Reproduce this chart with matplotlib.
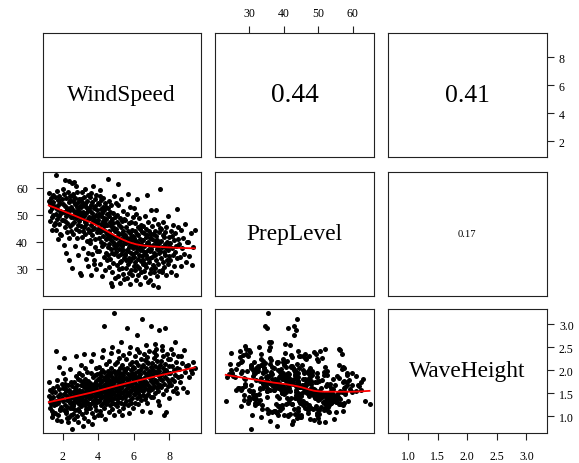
import numpy as np
import matplotlib
matplotlib.use("Agg")
import matplotlib.pyplot as plt

plt.rcParams['font.family'] = ['Liberation Serif', 'DejaVu Serif']

# observations (one entry per row of the data frame), grouped by wind speed
wind_speed = [
    1.22, 1.25, 1.28, 1.30, 1.33, 1.35, 1.38, 1.40, 1.42, 1.44, 1.46, 1.47, 1.49, 1.31,
    1.52, 1.55, 1.57, 1.6, 1.62, 1.64, 1.66, 1.68, 1.7, 1.72, 1.74, 1.76, 1.78, 1.8, 1.82, 1.84, 1.86, 1.88, 1.9, 1.93, 1.95, 1.98,
    2.01, 2.03, 2.05, 2.07, 2.09, 2.11, 2.13, 2.15, 2.17, 2.19, 2.21, 2.23, 2.25, 2.27, 2.29, 2.31, 2.33, 2.35, 2.37, 2.39,
    2.41, 2.43, 2.45, 2.47, 2.49, 2.04, 2.14, 2.24, 2.34, 2.44,
    2.51, 2.52, 2.54, 2.55, 2.57, 2.58, 2.6, 2.61, 2.63, 2.64, 2.66, 2.67, 2.69, 2.7, 2.72, 2.73, 2.75, 2.76, 2.78, 2.79,
    2.81, 2.82, 2.84, 2.85, 2.87, 2.88, 2.9, 2.91, 2.93, 2.94, 2.96, 2.97, 2.99, 2.56,
    3.01, 3.02, 3.04, 3.05, 3.07, 3.08, 3.1, 3.11, 3.13, 3.14, 3.16, 3.17, 3.19, 3.2, 3.22, 3.23, 3.25, 3.26, 3.28, 3.29,
    3.31, 3.32, 3.34, 3.35, 3.37, 3.38, 3.4, 3.41, 3.43, 3.44, 3.46, 3.47, 3.49, 3.06, 3.24, 3.42,
    3.51, 3.52, 3.53, 3.55, 3.56, 3.58, 3.59, 3.6, 3.62, 3.63, 3.65, 3.66, 3.67, 3.69, 3.7, 3.72, 3.73, 3.74, 3.76, 3.77,
    3.79, 3.8, 3.81, 3.83, 3.84, 3.86, 3.87, 3.88, 3.9, 3.91, 3.93, 3.94, 3.95, 3.97, 3.98, 3.99, 3.54, 3.78,
    4.01, 4.02, 4.03, 4.05, 4.06, 4.07, 4.08, 4.1, 4.11, 4.12, 4.13, 4.15, 4.16, 4.17, 4.18, 4.2, 4.21, 4.22, 4.23, 4.25,
    4.26, 4.27, 4.28, 4.3, 4.31, 4.32, 4.33, 4.35, 4.36, 4.37, 4.38, 4.4, 4.41, 4.42, 4.43, 4.45, 4.46, 4.47, 4.48, 4.49,
    4.51, 4.52, 4.53, 4.54, 4.55, 4.56, 4.58, 4.59, 4.6, 4.61, 4.62, 4.63, 4.65, 4.66, 4.67, 4.68, 4.69, 4.7, 4.72, 4.73,
    4.74, 4.75, 4.76, 4.77, 4.79, 4.8, 4.81, 4.82, 4.83, 4.84, 4.86, 4.87, 4.88, 4.89, 4.9, 4.91, 4.93, 4.94, 4.95, 4.96,
    4.97, 4.99,
    5.01, 5.02, 5.03, 5.04, 5.05, 5.07, 5.08, 5.09, 5.1, 5.11, 5.12, 5.13, 5.15, 5.16, 5.17, 5.18, 5.19, 5.2, 5.22, 5.23,
    5.24, 5.25, 5.26, 5.27, 5.29, 5.3, 5.31, 5.32, 5.33, 5.34, 5.36, 5.37, 5.38, 5.39, 5.4, 5.41, 5.43, 5.44, 5.45, 5.46,
    5.47, 5.49,
    5.51, 5.52, 5.53, 5.55, 5.56, 5.57, 5.58, 5.6, 5.61, 5.62, 5.63, 5.65, 5.66, 5.67, 5.68, 5.7, 5.71, 5.72, 5.73, 5.75,
    5.76, 5.77, 5.78, 5.8, 5.81, 5.82, 5.83, 5.85, 5.86, 5.87, 5.88, 5.9, 5.91, 5.92, 5.93, 5.95, 5.96, 5.97, 5.98, 5.99,
    6.01, 6.02, 6.04, 6.05, 6.06, 6.08, 6.09, 6.1, 6.12, 6.13, 6.14, 6.16, 6.17, 6.18, 6.2, 6.21, 6.22, 6.24, 6.25, 6.26,
    6.28, 6.29, 6.3, 6.32, 6.33, 6.34, 6.36, 6.37, 6.38, 6.4, 6.41, 6.42, 6.44, 6.45, 6.46, 6.48, 6.49, 6.03,
    6.51, 6.52, 6.54, 6.55, 6.57, 6.58, 6.6, 6.61, 6.63, 6.64, 6.66, 6.67, 6.69, 6.7, 6.72, 6.73, 6.75, 6.76, 6.78, 6.79,
    6.81, 6.82, 6.84, 6.85, 6.87, 6.88, 6.9, 6.91, 6.93, 6.94, 6.96, 6.97, 6.99, 6.56, 6.74, 6.92,
    7.01, 7.03, 7.04, 7.06, 7.07, 7.09, 7.1, 7.12, 7.13, 7.15, 7.16, 7.18, 7.19, 7.21, 7.22, 7.24, 7.25, 7.27, 7.28, 7.3,
    7.31, 7.33, 7.34, 7.36, 7.37, 7.39, 7.4, 7.42, 7.43, 7.45, 7.46, 7.48,
    7.51, 7.53, 7.55, 7.57, 7.59, 7.61, 7.63, 7.65, 7.67, 7.69, 7.71, 7.73, 7.75, 7.77, 7.79, 7.81, 7.83, 7.85, 7.87, 7.89,
    7.91, 7.93, 7.95, 7.97, 7.99, 7.6,
    8.02, 8.05, 8.08, 8.1, 8.13, 8.16, 8.19, 8.21, 8.24, 8.27, 8.3, 8.32, 8.35, 8.38, 8.41, 8.43, 8.46, 8.49,
    8.53, 8.58, 8.62, 8.67, 8.71, 8.76, 8.8, 8.85, 8.9, 8.96,
    9.05, 9.12, 9.2, 9.25, 9.33, 9.42,
]

prep_level = [
    58.2, 55.1, 51.3, 47.8, 53.6, 56.4, 49.2, 44.6, 52.7, 57.3, 50.1, 54.8, 46.3, 53.9,
    53.2, 47.1, 56.8, 64.8, 50.4, 44.3, 58.9, 52.1, 48.6, 55.4, 41.2, 53.7, 49.8, 57.2, 46.5, 51.6, 54.3, 43.0, 50.9, 42.6, 56.1, 48.0,
    54.1, 48.3, 57.6, 38.9, 51.2, 45.7, 62.9, 53.4, 35.8, 49.6, 56.2, 43.8, 52.7, 47.2, 58.4, 50.3, 41.6, 62.4, 54.9, 46.1,
    51.8, 55.7, 44.2, 49.1, 53.0, 59.6, 47.9, 52.2, 33.4, 56.9,
    52.3, 46.8, 30.5, 61.9, 55.2, 49.4, 43.1, 57.8, 51.6, 62.2, 47.5, 53.9, 38.4, 50.2, 56.4, 44.7, 60.8, 48.9, 53.1, 41.3,
    58.6, 50.8, 46.2, 54.7, 35.2, 52.0, 47.9, 56.0, 49.7, 44.0, 53.5, 28.6, 51.1, 57.1,
    27.6, 52.8, 46.1, 55.9, 41.7, 50.3, 58.4, 48.7, 44.2, 53.6, 37.9, 51.1, 56.7, 45.5, 49.8, 42.9, 54.2, 47.3, 59.8, 33.6,
    50.6, 46.8, 53.0, 40.4, 55.3, 48.2, 51.9, 44.8, 57.5, 36.1, 49.3, 52.4, 43.6, 54.8, 47.7, 31.2,
    51.4, 44.2, 56.8, 39.6, 48.9, 53.7, 27.8, 46.3, 58.2, 42.5, 50.7, 35.4, 54.9, 47.6, 44.9, 60.9, 49.3, 31.7, 52.6, 45.1,
    41.2, 55.8, 48.1, 38.3, 53.2, 46.9, 29.9, 50.1, 57.4, 43.6, 47.2, 52.0, 36.8, 49.7, 44.4, 54.3, 40.7, 33.2,
    48.2, 41.6, 53.9, 36.7, 50.4, 45.3, 57.1, 59.2, 43.8, 31.9, 49.6, 52.2, 40.1, 46.8, 55.4, 27.3, 44.5, 50.9, 38.4, 47.7,
    53.0, 42.3, 56.3, 49.0, 34.6, 45.9, 39.2, 51.7, 47.1, 29.8, 44.0, 54.6, 41.0, 48.5, 36.0, 52.8, 46.2, 43.1, 50.2, 33.4,
    46.3, 38.1, 52.4, 63.5, 41.7, 35.2, 49.8, 44.0, 30.6, 55.1, 43.2, 39.4, 47.5, 33.8, 51.0, 41.1, 24.8, 45.8, 37.3, 53.6,
    42.6, 28.9, 48.4, 23.6, 40.2, 36.0, 50.7, 44.7, 32.1, 47.0, 38.9, 35.5, 42.0, 57.2, 45.1, 39.8, 49.3, 26.7, 43.9, 37.8,
    54.3, 41.4,
    44.8, 36.2, 50.1, 31.5, 41.9, 47.3, 38.7, 27.4, 61.4, 43.5, 34.8, 53.6, 40.0, 29.9, 46.2, 37.5, 42.8, 32.6, 49.0, 39.3,
    24.9, 45.4, 35.7, 41.2, 55.9, 33.1, 38.4, 47.8, 30.4, 43.1, 36.9, 51.5, 40.6, 28.2, 44.2, 37.0, 34.0, 48.6, 39.7, 26.3,
    42.3, 35.4,
    42.7, 35.0, 48.1, 30.3, 39.8, 45.6, 33.4, 26.8, 41.3, 50.2, 37.2, 44.0, 31.7, 36.5, 57.6, 40.4, 28.5, 46.9, 38.1, 34.2,
    43.5, 24.4, 39.0, 52.8, 32.8, 41.8, 36.0, 47.3, 29.6, 38.6, 44.6, 33.9, 40.9, 27.7, 37.7, 49.4, 35.5, 42.1, 31.0, 39.4,
    41.5, 34.3, 47.2, 29.7, 38.8, 44.1, 32.5, 25.8, 40.2, 50.3, 36.4, 56.1, 31.1, 43.0, 37.6, 27.9, 45.6, 39.5, 33.7, 42.4,
    35.1, 48.8, 30.2, 38.0, 44.9, 24.6, 36.9, 41.0, 33.0, 46.3, 39.1, 28.8, 37.2, 43.7, 34.8, 40.6, 31.9, 52.6,
    40.7, 33.5, 46.1, 29.2, 38.4, 43.3, 31.8, 36.2, 49.5, 27.0, 41.9, 35.0, 44.8, 30.6, 39.2, 57.4, 34.1, 42.5, 37.1, 25.3,
    40.1, 47.4, 32.4, 38.9, 44.1, 28.4, 36.7, 41.3, 33.9, 52.0, 37.5, 30.0, 43.0, 35.6, 39.7, 26.1,
    41.2, 34.6, 45.9, 24.2, 38.7, 43.0, 31.3, 36.0, 48.6, 28.7, 40.3, 35.2, 44.2, 30.5, 39.0, 51.8, 33.2, 42.1, 37.4, 27.5,
    40.8, 46.5, 32.0, 38.2, 23.2, 43.6, 35.8, 29.4, 39.6, 45.2, 36.6, 59.8,
    40.5, 34.0, 44.9, 29.8, 38.1, 42.6, 32.7, 47.3, 36.4, 41.7, 30.9, 39.3, 35.1, 43.8, 27.6, 37.8, 45.7, 33.5, 40.0, 36.9,
    49.6, 31.8, 38.6, 42.0, 34.7, 28.8,
    39.8, 33.4, 44.0, 29.0, 37.6, 42.3, 35.1, 46.2, 31.2, 40.7, 36.3, 43.5, 27.9, 38.4, 52.1, 34.2, 41.1, 45.6,
    39.2, 34.4, 44.3, 31.0, 37.9, 41.6, 35.7, 46.8, 32.6, 39.9,
    40.1, 34.9, 43.2, 31.5, 38.0, 44.4,
]

wave_height = [
    1.74, 1.45, 1.31, 1.19, 1.38, 1.27, 1.53, 0.98, 1.12, 1.62, 1.05, 1.42, 1.29, 1.58,
    1.25, 1.08, 1.52, 1.27, 2.41, 1.33, 1.78, 1.66, 0.92, 1.45, 1.02, 1.30, 1.36, 2.07, 1.59, 1.14, 1.48, 1.17, 1.21, 0.89, 1.40, 1.71,
    1.33, 1.62, 1.48, 1.14, 2.27, 1.25, 1.82, 1.71, 1.12, 1.08, 1.55, 0.96, 1.21, 1.44, 1.67, 0.87, 1.36, 1.58, 1.39, 1.18,
    1.29, 1.50, 1.03, 1.74, 1.41, 1.93, 1.61, 1.35, 0.99, 2.03,
    1.41, 1.19, 0.73, 1.66, 1.32, 1.22, 1.05, 1.53, 1.28, 1.74, 0.95, 1.46, 1.61, 1.14, 1.37, 2.30, 1.87, 1.58, 1.69, 1.01,
    1.33, 1.49, 1.82, 1.40, 1.16, 0.88, 1.57, 1.26, 1.95, 1.11, 1.52, 1.35, 1.78, 1.24,
    1.22, 1.45, 1.67, 2.12, 1.06, 1.38, 1.89, 1.56, 1.74, 1.29, 0.80, 1.47, 2.35, 1.63, 0.96, 1.81, 1.34, 1.25, 1.52, 1.15,
    1.43, 1.70, 1.09, 1.60, 1.31, 1.97, 1.18, 1.49, 1.76, 0.90, 1.40, 1.27, 1.65, 1.36, 2.04, 1.55,
    1.48, 1.73, 1.26, 1.18, 1.39, 1.61, 2.21, 1.52, 1.95, 0.84, 1.44, 1.08, 1.67, 1.85, 1.33, 1.56, 2.36, 1.29, 1.70, 0.98,
    1.62, 1.41, 1.89, 1.22, 1.50, 1.14, 1.36, 1.76, 2.05, 1.58, 1.92, 1.31, 1.68, 1.03, 1.46, 1.81, 1.27, 1.59,
    1.55, 1.82, 1.34, 2.08, 1.47, 1.69, 1.12, 1.60, 1.93, 1.38, 1.74, 1.25, 1.03, 1.51, 1.87, 2.29, 1.64, 1.41, 2.00, 1.58,
    1.30, 1.79, 2.45, 1.44, 2.95, 1.67, 1.19, 1.96, 1.53, 1.36, 1.85, 0.94, 1.71, 1.48, 2.14, 1.27, 1.62, 1.90, 1.40, 1.76,
    1.72, 1.45, 1.98, 1.33, 1.81, 1.56, 2.21, 1.38, 1.67, 1.09, 1.89, 1.51, 1.76, 1.24, 1.42, 1.63, 2.37, 1.94, 1.58, 1.35,
    2.06, 1.70, 1.17, 1.85, 1.48, 2.50, 1.61, 1.29, 1.79, 1.53, 1.99, 3.24, 1.40, 1.74, 1.03, 1.66, 1.47, 2.13, 1.83, 1.26,
    1.59, 1.92,
    1.64, 1.91, 1.37, 2.18, 1.55, 1.79, 1.22, 2.42, 1.69, 1.46, 1.99, 1.31, 1.86, 1.58, 2.27, 1.12, 1.74, 2.05, 1.42, 1.66,
    1.95, 1.50, 2.61, 1.28, 1.83, 1.61, 1.04, 1.77, 2.12, 1.39, 1.71, 1.89, 1.53, 2.33, 1.19, 1.68, 1.97, 1.45, 1.81, 2.02,
    1.26, 1.57,
    1.70, 1.42, 1.98, 1.55, 2.24, 1.33, 1.83, 1.61, 2.92, 1.49, 2.06, 1.76, 1.25, 1.91, 1.64, 2.37, 1.46, 1.80, 1.07, 1.68,
    1.52, 2.14, 1.87, 1.36, 2.50, 1.72, 1.58, 2.01, 1.29, 1.85, 1.65, 1.94, 1.40, 2.19, 1.75, 1.18, 1.60, 2.08, 1.48, 1.82,
    1.76, 2.04, 1.48, 2.31, 1.62, 1.93, 1.30, 1.85, 2.18, 1.55, 1.71, 2.47, 1.39, 2.76, 1.66, 1.98, 1.82, 1.51, 2.12, 1.27,
    1.88, 1.60, 2.39, 1.74, 1.44, 2.01, 1.69, 1.92, 1.35, 2.24, 1.58, 1.80, 1.12, 3.12, 1.65, 2.07, 1.47, 1.90,
    1.80, 2.11, 1.54, 2.36, 1.69, 1.97, 1.38, 2.22, 1.86, 1.61, 2.55, 1.75, 1.45, 2.04, 1.92, 1.28, 1.71, 2.29, 1.57, 1.88,
    2.15, 1.49, 1.99, 1.66, 2.42, 1.83, 1.10, 1.94, 1.62, 2.07, 1.77, 1.41, 2.97, 1.73, 2.19, 1.58,
    1.85, 2.16, 1.59, 1.91, 1.72, 2.01, 1.43, 2.27, 2.40, 1.66, 2.58, 1.79, 1.50, 2.09, 1.96, 2.47, 1.76, 2.33, 1.62, 1.93,
    2.21, 1.54, 2.04, 1.70, 1.34, 2.88, 1.87, 1.98, 1.24, 2.12, 1.81, 1.68,
    1.90, 2.21, 1.63, 2.43, 1.78, 2.06, 1.49, 2.31, 1.97, 1.71, 1.02, 1.85, 2.92, 2.14, 1.57, 1.10, 2.00, 2.36, 1.81, 1.66,
    2.25, 1.94, 1.40, 2.09, 1.75, 2.52,
    1.94, 2.25, 1.68, 2.47, 1.82, 2.10, 1.55, 2.35, 2.01, 1.76, 2.62, 1.89, 1.62, 2.17, 1.51, 2.05, 1.86, 2.30,
    2.02, 1.74, 2.31, 1.88, 2.16, 1.62, 2.44, 1.96, 2.10, 1.53,
    2.11, 1.86, 2.00, 1.93, 2.18, 2.04,
]

var_names = ["WindSpeed", "PrepLevel", "WaveHeight"]
var_limits = [(0.87, 9.77), (20.1, 66.1), (0.65, 3.34)]
var_ticks = [[2, 4, 6, 8], [30, 40, 50, 60], [1.0, 1.5, 2.0, 2.5, 3.0]]
var_ticklabels = [["2", "4", "6", "8"], ["30", "40", "50", "60"],
                  ["1.0", "1.5", "2.0", "2.5", "3.0"]]
# correlations printed in the upper panels: (row, col) -> value
cor_values = {(0, 1): 0.44, (0, 2): 0.41, (1, 2): 0.17}


def lowess(x, y, f=2 / 3, n_iter=3):
    order = np.argsort(x)
    x = x[order]
    y = y[order]
    n = len(x)
    r = int(np.ceil(f * n))
    fit = np.zeros(n)
    rob = np.ones(n)
    for _ in range(n_iter + 1):
        for k in range(n):
            d = np.abs(x - x[k])
            h = np.sort(d)[r - 1]
            w = np.clip(d / h, 0, 1)
            w = (1 - w ** 3) ** 3 * rob
            sw = w.sum()
            xm = (w * x).sum() / sw
            ym = (w * y).sum() / sw
            sxx = (w * (x - xm) ** 2).sum()
            b = (w * (x - xm) * (y - ym)).sum() / sxx if sxx > 0 else 0.0
            fit[k] = ym + b * (x[k] - xm)
        res = y - fit
        s = np.median(np.abs(res))
        u = np.clip(res / (6 * s), -1, 1)
        rob = (1 - u ** 2) ** 2
    return x, fit


data = [np.array(wind_speed), np.array(prep_level), np.array(wave_height)]

W, H = 579, 464
col_px = [(42.5, 201.0), (215.0, 374.0), (387.5, 546.6)]
row_px = [(33.5, 158.0), (172.5, 296.7), (309.5, 433.5)]

fig = plt.figure(figsize=(W / 100, H / 100), dpi=100)

for i in range(3):
    for j in range(3):
        x0, x1 = col_px[j]
        y0, y1 = row_px[i]
        ax = fig.add_axes([x0 / W, 1 - y1 / H, (x1 - x0) / W, (y1 - y0) / H])
        ax.set_xlim(var_limits[j])
        ax.set_ylim(var_limits[i])
        for sp in ax.spines.values():
            sp.set_linewidth(0.8)
            sp.set_color('#222222')
        ax.tick_params(which='both', bottom=False, top=False, left=False, right=False,
                       labelbottom=False, labeltop=False, labelleft=False, labelright=False)
        ax.tick_params(direction='out', length=4.9, width=0.8, color='#222222',
                       labelsize=8.6, labelcolor='black')

        if i > j:
            ax.plot(data[j], data[i], 'o', ms=3.6, color='black', mew=0)
            sx, sy = lowess(data[j], data[i])
            ax.plot(sx, sy, color='red', lw=1.3)
        elif i == j:
            ax.text(0.5, 0.5, var_names[i], transform=ax.transAxes,
                    ha='center', va='center', fontsize=16.8)
        else:
            r = cor_values[(i, j)]
            ax.text(0.5, 0.5, f"{r:.2f}", transform=ax.transAxes,
                    ha='center', va='center', fontsize=45 * r)

        ax.set_xticks(var_ticks[j])
        ax.set_xticklabels(var_ticklabels[j])
        ax.set_yticks(var_ticks[i])
        ax.set_yticklabels(var_ticklabels[i])

        if i == 0 and j % 2 == 1:
            ax.tick_params(axis='x', top=True, labeltop=True, pad=5)
        if i == 2 and j % 2 == 0:
            ax.tick_params(axis='x', bottom=True, labelbottom=True, pad=7.5)
        if j == 0 and i % 2 == 1:
            ax.tick_params(axis='y', left=True, labelleft=True, pad=5.5)
        if j == 2 and i % 2 == 0:
            ax.tick_params(axis='y', right=True, labelright=True, pad=4)

fig.savefig('out.png', dpi=100)
